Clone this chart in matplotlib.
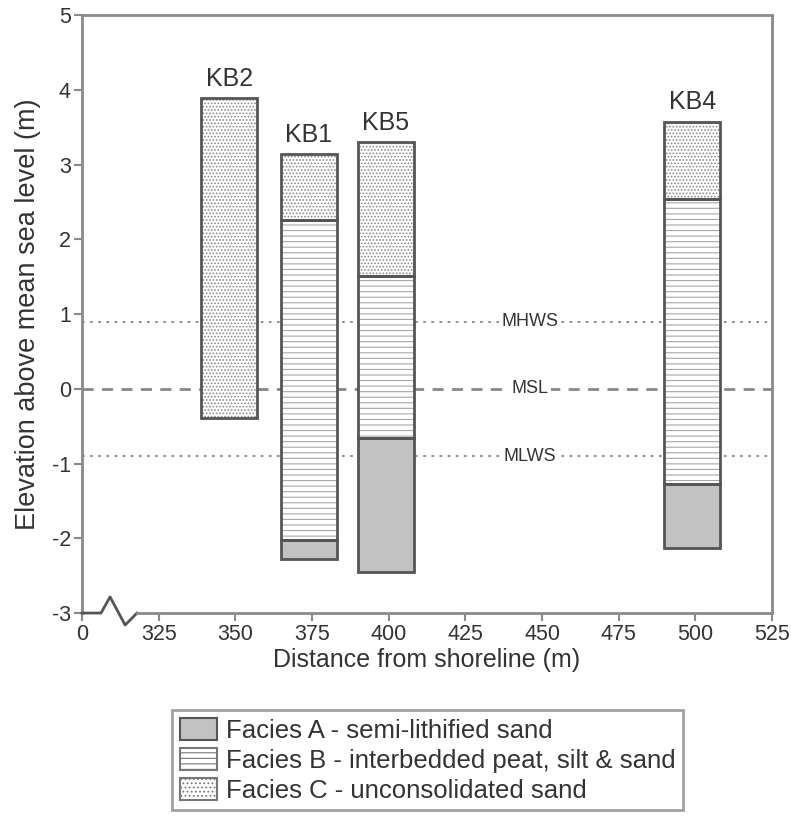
import matplotlib.pyplot as plt
import numpy as np
from matplotlib.patches import Patch

plt.rcParams['font.family'] = ['Liberation Sans', 'DejaVu Sans']
plt.rcParams['hatch.linewidth'] = 0.8
plt.rcParams['axes.unicode_minus'] = False

# borehole data
cores = ['KB2', 'KB1', 'KB5', 'KB4']
dist = [348, 374, 399, 499]
top = [3.89, 3.14, 3.30, 3.57]
c_base = [-0.39, 2.26, 1.51, 2.54]          # base of facies C
b_base = [np.nan, -2.02, -0.66, -1.27]      # base of facies B
a_base = [np.nan, -2.28, -2.45, -2.13]      # base of facies A

tide_names = ['MHWS', 'MSL', 'MLWS']
tide_levels = [0.9, 0.0, -0.9]

xticks = [300, 325, 350, 375, 400, 425, 450, 475, 500, 525]
xticklabels = ['0', '325', '350', '375', '400', '425', '450', '475', '500', '525']

txt = '#333333'
spine = '#8a8a8a'
edge = '#555555'
w = 18.3

fig = plt.figure(figsize=(7.91, 8.24), dpi=100)
ax = fig.add_axes([0.1037, 0.256, 0.8723, 0.7258])

# tide lines
for name, lev in zip(tide_names, tide_levels):
    ls = (0, (4, 3)) if name == 'MSL' else (0, (1.5, 3))
    lw = 2.0 if name == 'MSL' else 1.3
    ax.axhline(lev, color='#888888', ls=ls, lw=lw, zorder=1)
    ax.text(446, lev, name, ha='center', va='center', fontsize=13, color=txt,
            bbox=dict(facecolor='white', edgecolor='none', pad=2), zorder=2)

c_h = np.array(top) - np.array(c_base)
b_h = np.array(c_base) - np.array(b_base)
a_h = np.array(b_base) - np.array(a_base)

ax.bar(dist, c_h, w, bottom=c_base, color='white', edgecolor='#8a8a8a',
       hatch='.....', lw=0, zorder=3)
ax.bar(dist, b_h, w, bottom=b_base, color='white', edgecolor='#a8a8a8',
       hatch='---', lw=0, zorder=3)
ax.bar(dist, a_h, w, bottom=a_base, color='#c2c2c2', lw=0, zorder=3)
for h, b in [(c_h, c_base), (b_h, b_base), (a_h, a_base)]:
    ax.bar(dist, h, w, bottom=b, fill=False, edgecolor=edge, lw=2, zorder=4)

for name, x, t in zip(cores, dist, top):
    ax.text(x, t + 0.1, name, ha='center', va='bottom', fontsize=18, color=txt)

ax.set_xlim(300, 525)
ax.set_ylim(-3, 5)
ax.set_xticks(xticks)
ax.set_xticklabels(xticklabels)
ax.set_yticks(range(-3, 6))
ax.tick_params(colors=spine, labelcolor=txt, labelsize=15.5, width=1.5,
               length=6, direction='out', pad=2)
for s in ['left', 'right', 'top']:
    ax.spines[s].set_color(spine)
    ax.spines[s].set_linewidth(2)
ax.spines['bottom'].set_visible(False)

# bottom axis with break symbol (axes fraction)
bx = [0, 0.0275, 0.0406, 0.0625, 0.0797]
by = [0, 0, 0.027, -0.02, 0]
ax.plot(bx, by, transform=ax.transAxes, color=edge, lw=2, clip_on=False, zorder=5)
ax.plot([0.0797, 1], [0, 0], transform=ax.transAxes, color=spine, lw=2,
        clip_on=False, zorder=5)

ax.set_xlabel('Distance from shoreline (m)', fontsize=18, color=txt, labelpad=2)
ax.set_ylabel('Elevation above mean sea level (m)', fontsize=19.5, color=txt,
              labelpad=8)

handles = [
    Patch(facecolor='#c2c2c2', edgecolor=edge, lw=1.5),
    Patch(facecolor='white', edgecolor='#777777', hatch='---', lw=1.5),
    Patch(facecolor='white', edgecolor='#777777', hatch='....', lw=1.5),
]
labels = ['Facies A - semi-lithified sand',
          'Facies B - interbedded peat, silt & sand',
          'Facies C - unconsolidated sand']
leg = fig.legend(handles, labels, loc='upper left', bbox_to_anchor=(0.2175, 0.1383),
                 fontsize=18.5, frameon=True, fancybox=False, edgecolor=spine,
                 handlelength=1.45, handleheight=0.95, handletextpad=0.35,
                 labelspacing=0.2, borderpad=0.3, borderaxespad=0)
leg.get_frame().set_linewidth(2)
for t in leg.get_texts():
    t.set_color(txt)

fig.savefig('out.png', dpi=100)
